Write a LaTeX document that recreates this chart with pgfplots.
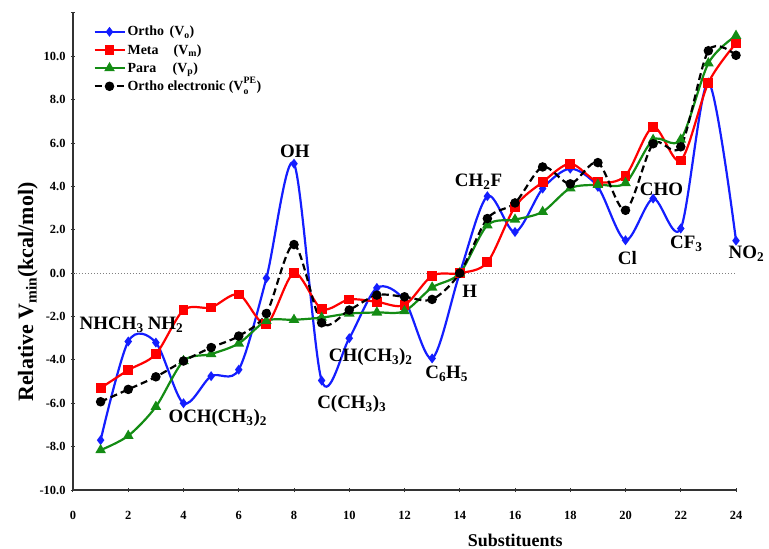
\documentclass[border=0pt]{standalone}
\usepackage{fontspec}
\setmainfont{Liberation Serif}
\usepackage{pgfplots}
\pgfplotsset{compat=1.18}
\definecolor{oblue}{RGB}{20,30,255}
\definecolor{mred}{RGB}{255,0,0}
\definecolor{pgreen}{RGB}{20,140,20}
\begin{document}
\begin{tikzpicture}
\begin{axis}[
  name=ax,
  clip=false,
  scale only axis, width=663bp, height=477bp,
  xmin=0, xmax=24, ymin=-10, ymax=12,
  axis lines*=left,
  axis line style={line width=1.2bp, black!80},
  xtick={0,2,...,24},
  ytick={-10,-8,...,12},
  yticklabels={-10.0,-8.0,-6.0,-4.0,-2.0,0.0,2.0,4.0,6.0,8.0,10.0,{}},
  /pgf/number format/assume math mode=true,
  tick align=center, major tick length=4bp,
  tick style={black!80, line width=1bp},
  tick label style={font=\fontsize{12.5}{14}\selectfont\bfseries},
  xticklabel style={yshift=-16bp},
  yticklabel style={xshift=-2bp},
  xlabel={Substituents},
  xlabel style={at={(axis description cs:0.667,0)}, anchor=center, yshift=-50bp, font=\fontsize{18}{20}\selectfont\bfseries},
  ylabel={Relative V\textsubscript{min}(kcal/mol)},
  ylabel style={at={(axis description cs:-0.068,0.415)}, anchor=center, font=\fontsize{22}{24}\selectfont\bfseries},
  legend style={at={(axis description cs:0.026,0.981)}, anchor=north west, draw=none, fill=none,
    font=\fontsize{14}{16}\selectfont\bfseries, row sep=3bp},
  legend cell align=left,
  legend image code/.code={\draw[mark repeat=2,mark phase=2] plot coordinates {(0bp,0bp) (15bp,0bp) (30bp,0bp)};},
]
\addplot[gray, dotted, line width=1bp, forget plot] coordinates {(0,0) (24,0)};

\addplot[oblue, line width=2.2bp, smooth, mark=diamond*, mark size=3.2bp, mark options={solid}] table {
x y
1 -7.70
2 -3.15
3 -3.20
4 -6.00
5 -4.75
6 -4.45
7 -0.23
8 5.05
9 -4.95
10 -3.00
11 -0.68
12 -1.25
13 -3.93
14 0.00
15 3.55
16 1.90
17 3.90
18 4.82
19 3.98
20 1.52
21 3.44
22 2.06
23 8.80
24 1.50
};
\addlegendentry{\makebox[42bp][l]{Ortho}(V\textsubscript{o})}

\addplot[mred, line width=2.2bp, smooth, mark=square*, mark size=3.8bp, mark options={solid}] table {
x y
1 -5.30
2 -4.47
3 -3.73
4 -1.70
5 -1.58
6 -0.98
7 -2.35
8 0.00
9 -1.65
10 -1.21
11 -1.32
12 -1.47
13 -0.12
14 0.00
15 0.50
16 3.06
17 4.20
18 5.05
19 4.22
20 4.50
21 6.74
22 5.20
23 8.78
24 10.60
};
\addlegendentry{\makebox[46bp][l]{Meta}(V\textsubscript{m})}

\addplot[pgreen, line width=2.2bp, smooth, mark=triangle*, mark size=4bp, mark options={solid}] table {
x y
1 -8.16
2 -7.50
3 -6.16
4 -4.05
5 -3.73
6 -3.24
7 -2.20
8 -2.15
9 -2.05
10 -1.86
11 -1.81
12 -1.75
13 -0.66
14 0.00
15 2.21
16 2.47
17 2.83
18 3.92
19 4.08
20 4.16
21 6.15
22 6.16
23 9.68
24 10.95
};
\addlegendentry{\makebox[45bp][l]{Para}(V\textsubscript{p})}

\addplot[black, line width=2.2bp, smooth, dash pattern=on 7bp off 4bp, mark=*, mark size=3.6bp, mark options={solid}] table {
x y
1 -5.93
2 -5.36
3 -4.78
4 -4.05
5 -3.43
6 -2.90
7 -1.86
8 1.32
9 -2.29
10 -1.70
11 -1.01
12 -1.09
13 -1.21
14 0.00
15 2.52
16 3.24
17 4.90
18 4.12
19 5.10
20 2.90
21 5.97
22 5.83
23 10.26
24 10.05
};
\addlegendentry{Ortho electronic (V\textsuperscript{\raisebox{0pt}[0pt][0pt]{\shortstack[l]{PE\\[-1pt]\raisebox{-9pt}{o}}}})}

\begin{scope}[every node/.style={font=\fontsize{19}{22}\selectfont\bfseries, inner sep=0pt}]
\node at (axis cs:1.4,-2.4) {NHCH\textsubscript{3}};
\node at (axis cs:3.35,-2.4) {NH\textsubscript{2}};
\node at (axis cs:8.03,5.6) {OH};
\node at (axis cs:5.24,-6.68) {OCH(CH\textsubscript{3})\textsubscript{2}};
\node at (axis cs:10.78,-3.87) {CH(CH\textsubscript{3})\textsubscript{2}};
\node at (axis cs:10.09,-6.04) {C(CH\textsubscript{3})\textsubscript{3}};
\node at (axis cs:13.53,-4.65) {C\textsubscript{6}H\textsubscript{5}};
\node at (axis cs:14.36,-0.83) {H};
\node at (axis cs:14.68,4.2) {CH\textsubscript{2}F};
\node at (axis cs:20.07,0.7) {Cl};
\node at (axis cs:21.3,3.87) {CHO};
\node at (axis cs:22.2,1.34) {CF\textsubscript{3}};
\node at (axis cs:24.38,0.9) {NO\textsubscript{2}};
\end{scope}
\end{axis}
\pgfresetboundingbox
\path (ax.south west) ++(-73bp,-59bp) rectangle ([shift={(33bp,13bp)}]ax.north east);
\end{tikzpicture}
\end{document}
